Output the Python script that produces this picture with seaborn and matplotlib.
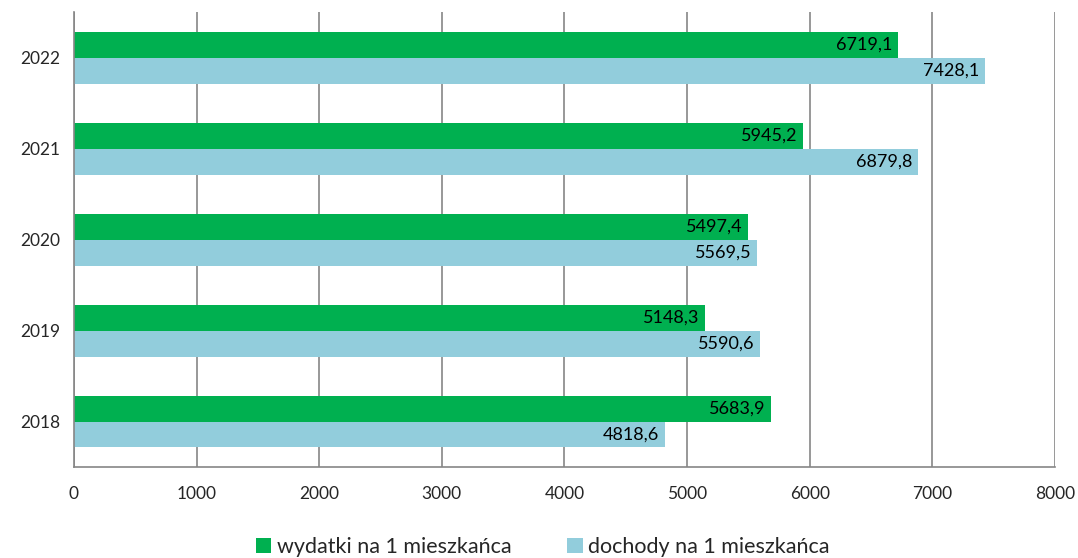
import pandas as pd
import matplotlib
matplotlib.use("Agg")
import matplotlib.pyplot as plt
import seaborn as sns

years = ["2022", "2021", "2020", "2019", "2018"]
wydatki = [6719.1, 5945.2, 5497.4, 5148.3, 5683.9]
dochody = [7428.1, 6879.8, 5569.5, 5590.6, 4818.6]
series_names = ["wydatki na 1 mieszkańca", "dochody na 1 mieszkańca"]
colors = ["#00B050", "#92CDDC"]
x_ticks = [0, 1000, 2000, 3000, 4000, 5000, 6000, 7000, 8000]

df = pd.DataFrame({
    "rok": years * 2,
    "wartosc": wydatki + dochody,
    "seria": [series_names[0]] * len(years) + [series_names[1]] * len(years),
})

sns.set_style("white")
plt.rcParams["font.family"] = ["Lato", "DejaVu Sans"]

fig = plt.figure(figsize=(10.78, 5.58), dpi=100)
ax = fig.add_axes([0.0686, 0.163, 0.9101, 0.815])

sns.barplot(data=df, y="rok", x="wartosc", hue="seria", order=years,
            hue_order=series_names, palette=colors, orient="h",
            width=0.57, saturation=1, linewidth=0, ax=ax, legend=True)

# labels inside bar ends, comma decimals
for cont in ax.containers:
    anns = ax.bar_label(cont, labels=[f"{v:.1f}".replace(".", ",") for v in cont.datavalues],
                        padding=-4, fontsize=13, color="black")
    for a in anns:
        a.set_ha("right")

ax.set_xlim(0, 8000)
ax.set_ylim(4.5, -0.5)
ax.set_xticks(x_ticks)
ax.set_xticklabels([str(t) for t in x_ticks], fontsize=12.5)
ax.tick_params(axis="y", length=0, labelsize=12.5, pad=10)
ax.set_yticks([i - 0.5 for i in range(len(years) + 1)], minor=True)
ax.tick_params(axis="y", which="minor", length=6, color="#868686", width=1.2)
ax.tick_params(axis="x", length=6, color="#868686", width=1.2, pad=8)
ax.xaxis.grid(True, color="#868686", linewidth=1.2)
ax.set_axisbelow(True)
ax.set_xlabel("")
ax.set_ylabel("")

for s in ["top", "right"]:
    ax.spines[s].set_visible(False)
for s in ["left", "bottom"]:
    ax.spines[s].set_color("#868686")
    ax.spines[s].set_linewidth(1.2)

ax.legend(loc="upper center", bbox_to_anchor=(0.478, -0.112), ncol=2, frameon=False,
          fontsize=15.5, handlelength=0.7, handleheight=0.7, handletextpad=0.25,
          columnspacing=2.6)

fig.savefig("out.png", dpi=100)
